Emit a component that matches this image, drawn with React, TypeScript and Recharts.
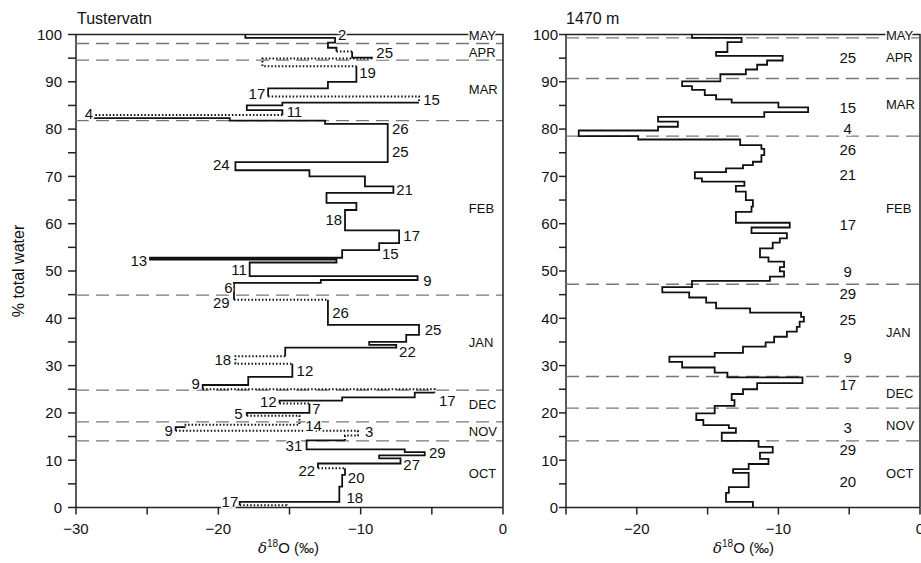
import React from 'react';
import { ScatterChart, Scatter, XAxis, YAxis } from 'recharts';

const FONT = '"Liberation Sans", Arial, Helvetica, sans-serif';

// Tustervatn: δ18O of each layer, bottom of the layer (% total water), line style
// s = solid, h = dotted step into the layer, d = dotted step and layer
const tusVal = [
  -18.1, -11.8, -12.3, -11.7, -10.6, -9.2, -16.9, -10.3, -12.3, -16.5,
  -5.9, -15.5, -18.0, -15.5, -28.9, -19.2, -12.5, -8.1, -18.8, -13.6,
  -9.7, -7.7, -12.4, -10.3, -11.1, -7.3, -8.7, -11.3, -24.8, -11.7,
  -17.8, -6.0, -12.8, -18.9, -12.3, -5.9, -6.8, -9.4, -7.5, -15.3,
  -18.8, -14.8, -17.9, -21.1, -4.8, -6.2, -11.3, -15.7, -13.6, -18.0,
  -14.3, -22.3, -23.0, -10.2, -11.1, -13.8, -6.9, -5.5, -8.7, -7.2,
  -13.0, -11.1, -11.3, -11.5, -18.5, -15.2,
];
const tusBot = [
  99.3, 98.3, 97.2, 96.4, 95.1, 94.9, 93.3, 90.0, 88.6, 86.9,
  85.6, 85.0, 84.0, 83.0, 82.3, 81.8, 81.1, 73.0, 71.3, 70.0,
  67.9, 66.5, 64.4, 62.9, 58.6, 55.9, 54.4, 52.8, 52.4, 51.8,
  48.9, 48.1, 47.5, 43.9, 38.6, 36.5, 35.0, 34.4, 33.8, 32.0,
  30.4, 27.6, 25.9, 25.0, 24.3, 23.3, 22.6, 22.0, 20.0, 19.4,
  17.5, 17.0, 16.2, 15.2, 14.2, 12.3, 11.7, 11.0, 10.4, 9.3,
  8.3, 6.9, 4.4, 1.2, 0.5, 0,
];
const tusStyle = [
  's', 's', 's', 's', 'h', 's', 'd', 'h', 's', 's',
  'd', 's', 's', 's', 'd', 's', 's', 's', 's', 's',
  's', 's', 's', 's', 's', 's', 's', 's', 's', 's',
  's', 's', 's', 's', 'h', 's', 's', 's', 's', 's',
  'd', 'h', 's', 's', 'd', 's', 's', 's', 'h', 's',
  'd', 'd', 's', 'd', 'd', 's', 's', 's', 's', 's',
  's', 'h', 's', 's', 's', 'd',
];

// 1470 m
const hiVal = [
  -16.1, -12.6, -13.6, -14.4, -9.7, -10.8, -11.5, -12.3, -14.1, -16.8,
  -16.1, -15.2, -14.4, -13.3, -10.0, -7.9, -11.0, -18.5, -17.1, -18.5,
  -24.1, -19.9, -12.7, -11.2, -11.0, -11.2, -11.8, -12.5, -13.7, -15.9,
  -15.4, -12.4, -13.0, -12.3, -11.8, -11.9, -13.0, -9.2, -11.9, -9.4,
  -9.9, -10.4, -11.3, -10.7, -9.6, -9.9, -9.6, -10.6, -16.1, -18.2,
  -16.3, -15.1, -14.4, -12.0, -8.4, -8.2, -8.5, -8.7, -9.4, -10.3,
  -10.9, -12.5, -14.5, -17.7, -16.8, -14.5, -13.6, -8.3, -11.5, -12.5,
  -13.3, -13.1, -14.5, -15.8, -15.3, -13.5, -13.0, -14.0, -11.4, -10.4,
  -11.3, -10.7, -12.1, -13.2, -12.1, -13.5, -13.7, -11.8,
];
const hiBot = [
  99.3, 98.4, 96.3, 95.5, 94.5, 93.6, 92.6, 91.6, 90.1, 89.1,
  88.3, 87.2, 86.3, 85.6, 84.6, 83.6, 82.6, 81.6, 80.5, 79.7,
  78.5, 77.8, 76.6, 75.8, 74.5, 73.1, 72.4, 71.7, 70.9, 69.6,
  68.9, 68.0, 66.8, 65.0, 63.6, 62.5, 60.2, 59.2, 58.0, 56.9,
  56.0, 54.8, 52.9, 52.0, 50.8, 49.9, 48.8, 47.9, 46.6, 45.5,
  44.4, 43.3, 42.1, 41.2, 40.3, 39.3, 38.2, 37.2, 36.1, 34.9,
  34.0, 32.7, 31.9, 30.8, 29.6, 28.5, 27.5, 26.3, 25.0, 24.0,
  22.7, 21.5, 19.9, 18.5, 17.4, 16.8, 15.8, 14.1, 12.8, 11.6,
  10.3, 9.2, 8.1, 7.3, 4.3, 3.1, 1.2, 0,
];

// month boundaries (dashed) and month names
const months = ['MAY', 'APR', 'MAR', 'FEB', 'JAN', 'DEC', 'NOV', 'OCT'];
const tusBounds = [98.1, 94.6, 81.8, 44.9, 24.8, 18.1, 14.1];
const tusMonthY = [99.8, 96.1, 88.3, 63.3, 34.8, 21.7, 16.0, 7.1];
const hiBounds = [99.3, 90.7, 78.5, 47.2, 27.7, 21.0, 14.1];
const hiMonthY = [99.7, 95.2, 85.1, 63.3, 36.9, 24.2, 17.4, 7.1];

// sampling-day labels: text, δ18O, % total water, anchor
const tusDays: [string, number, number, string][] = [
  ['2', -11.6, 99.9, 'start'], ['25', -8.9, 96.3, 'start'], ['19', -10.1, 91.9, 'start'],
  ['17', -16.7, 87.6, 'end'], ['15', -5.6, 86.2, 'start'], ['11', -15.2, 83.8, 'start'],
  ['4', -28.8, 83.2, 'end'], ['26', -7.8, 80.2, 'start'], ['25', -7.8, 75.2, 'start'],
  ['24', -19.2, 72.6, 'end'], ['21', -7.5, 67.3, 'start'], ['18', -11.3, 60.8, 'end'],
  ['17', -7.0, 57.6, 'start'], ['15', -8.5, 53.8, 'start'], ['13', -25.0, 52.3, 'end'],
  ['11', -18.0, 50.4, 'end'], ['9', -5.6, 47.9, 'start'], ['6', -19.0, 46.6, 'end'],
  ['29', -19.2, 43.4, 'end'], ['26', -12.0, 41.3, 'start'], ['25', -5.5, 37.7, 'start'],
  ['22', -7.3, 32.9, 'start'], ['18', -19.1, 31.2, 'end'], ['12', -14.5, 28.9, 'start'],
  ['9', -21.3, 26.3, 'end'], ['17', -4.5, 22.7, 'start'], ['12', -15.9, 22.5, 'end'],
  ['7', -13.4, 21.0, 'start'], ['5', -18.3, 19.8, 'end'], ['14', -13.9, 17.4, 'start'],
  ['9', -23.2, 16.2, 'end'], ['3', -9.7, 16.0, 'start'], ['31', -14.1, 13.2, 'end'],
  ['29', -5.2, 11.7, 'start'], ['27', -7.0, 9.0, 'start'], ['22', -13.2, 7.9, 'end'],
  ['20', -10.9, 6.4, 'start'], ['18', -11.0, 2.2, 'start'], ['17', -18.6, 1.2, 'end'],
];
const hiDays = ['25', '15', '4', '26', '21', '17', '9', '29', '25', '9', '17', '3', '29', '20'];
const hiDayY = [95.2, 84.5, 80.2, 75.6, 70.3, 59.9, 50.0, 45.3, 39.8, 31.8, 25.9, 17.0, 12.2, 5.4];

type Pt = { x: number; y: number };
type Run = { dotted: boolean; pts: Pt[] };

function buildRuns(vals: number[], bots: number[], styles?: string[]): Run[] {
  const runs: Run[] = [];
  const push = (a: Pt, b: Pt, dotted: boolean) => {
    const last = runs[runs.length - 1];
    if (last && last.dotted === dotted) last.pts.push(b);
    else runs.push({ dotted, pts: [a, b] });
  };
  let top = 100;
  vals.forEach((v, i) => {
    const st = styles ? styles[i] : 's';
    if (i > 0) push({ x: vals[i - 1], y: top }, { x: v, y: top }, st !== 's');
    push({ x: v, y: top }, { x: v, y: bots[i] }, st === 'd');
    top = bots[i];
  });
  return runs;
}

const TextMark = (p: any) => {
  const d = p.payload;
  return (
    <text
      x={p.cx}
      y={p.cy}
      textAnchor={d.a}
      dominantBaseline="central"
      fontSize={d.f}
      fontFamily={FONT}
      fill="#111"
      stroke="#fff"
      strokeWidth={3}
      paintOrder="stroke"
    >
      {d.t}
    </text>
  );
};

const noDot = () => <g />;

const fmt = (v: number) => (v % 10 === 0 ? (v < 0 ? '\u2212' + Math.abs(v) : String(v)) : '');

const yTicks = Array.from({ length: 21 }, (_, i) => i * 5);

type PanelProps = {
  width: number;
  margin: { top: number; right: number; bottom: number; left: number };
  yWidth: number;
  xMin: number;
  runs: Run[];
  bounds: number[];
  monthY: number[];
  labels: { x: number; y: number; t: string; a: string; f: number }[];
  tickSize: number;
  tickMargin: number;
};

function Panel(p: PanelProps) {
  const xTicks: number[] = [];
  for (let v = p.xMin; v <= 0; v += 5) xTicks.push(v);
  const axisStyle = { stroke: '#222', strokeWidth: 1.5 };
  const monthLabels = months.map((m, i) => ({ x: -2.4, y: p.monthY[i], t: m, a: 'start', f: 13 }));
  // frame: top edge at 100 % and right edge at 0 ‰
  const frame = [
    { x: p.xMin, y: 100 },
    { x: 0, y: 100 },
    { x: 0, y: 0 },
  ];
  return (
    <ScatterChart width={p.width} height={563} margin={p.margin}>
      <XAxis
        type="number"
        dataKey="x"
        domain={[p.xMin, 0]}
        ticks={xTicks}
        tickFormatter={fmt}
        interval={0}
        height={30}
        tickSize={7}
        tickMargin={9}
        axisLine={axisStyle}
        tickLine={axisStyle}
        tick={{ fill: '#111', fontSize: 15, fontFamily: FONT }}
      />
      <YAxis
        type="number"
        dataKey="y"
        domain={[0, 100]}
        ticks={yTicks}
        tickFormatter={fmt}
        interval={0}
        width={p.yWidth}
        tickSize={p.tickSize}
        tickMargin={p.tickMargin}
        axisLine={axisStyle}
        tickLine={axisStyle}
        tick={{ fill: '#111', fontSize: 15, fontFamily: FONT }}
      />
      {p.bounds.map((b, i) => (
        <Scatter
          key={'b' + i}
          data={[
            { x: p.xMin, y: b },
            { x: 0, y: b },
          ]}
          line={{ stroke: '#777', strokeWidth: 1.3, strokeDasharray: '13 7', fill: 'none' }}
          lineType="joint"
          shape={noDot}
          isAnimationActive={false}
        />
      ))}
      <Scatter
        data={frame}
        line={{ stroke: '#222', strokeWidth: 1.5, fill: 'none' }}
        lineType="joint"
        shape={noDot}
        isAnimationActive={false}
      />
      {p.runs.map((r, i) => (
        <Scatter
          key={'r' + i}
          data={r.pts}
          line={{
            stroke: '#111',
            strokeWidth: r.dotted ? 2 : 1.8,
            strokeDasharray: r.dotted ? '1.5 2' : undefined,
            fill: 'none',
          }}
          lineType="joint"
          shape={noDot}
          isAnimationActive={false}
        />
      ))}
      <Scatter data={[...p.labels, ...monthLabels]} shape={TextMark} isAnimationActive={false} />
    </ScatterChart>
  );
}

const DeltaLabel = ({ left }: { left: number }) => (
  <div
    style={{
      position: 'absolute',
      left,
      top: 538,
      fontSize: 15,
      fontFamily: FONT,
      color: '#111',
      whiteSpace: 'nowrap',
    }}
  >
    <span style={{ fontStyle: 'italic', fontFamily: '"DejaVu Serif", serif' }}>δ</span>
    <sup style={{ fontSize: 10 }}>18</sup>O (‰)
  </div>
);

export default function App() {
  const tusRuns = buildRuns(tusVal, tusBot, tusStyle);
  const hiRuns = buildRuns(hiVal, hiBot);
  const tusLabels = tusDays.map(([t, x, y, a]) => ({ t, x, y, a, f: 15 }));
  const hiLabels = hiDays.map((t, i) => ({ t, x: -5.1, y: hiDayY[i], a: 'middle', f: 15 }));
  return (
    <div
      style={{
        position: 'absolute',
        left: 0,
        top: 0,
        width: 921,
        height: 563,
        overflow: 'hidden',
        background: '#fff',
        fontFamily: FONT,
      }}
    >
      <div style={{ position: 'absolute', left: 0, top: 0 }}>
        <Panel
          width={510}
          margin={{ top: 34.5, right: 7, bottom: 25.5, left: 16 }}
          yWidth={60}
          xMin={-30}
          runs={tusRuns}
          bounds={tusBounds}
          monthY={tusMonthY}
          labels={tusLabels}
          tickSize={8}
          tickMargin={6}
        />
      </div>
      <div style={{ position: 'absolute', left: 510, top: 0 }}>
        <Panel
          width={411}
          margin={{ top: 34.5, right: 1, bottom: 25.5, left: 11 }}
          yWidth={45}
          xMin={-25}
          runs={hiRuns}
          bounds={hiBounds}
          monthY={hiMonthY}
          labels={hiLabels}
          tickSize={7}
          tickMargin={1}
        />
      </div>
      <div style={{ position: 'absolute', left: 77, top: 10, fontSize: 16, color: '#111' }}>Tustervatn</div>
      <div style={{ position: 'absolute', left: 566, top: 10, fontSize: 16, color: '#111' }}>1470 m</div>
      <div
        style={{
          position: 'absolute',
          left: 19,
          top: 271,
          fontSize: 16,
          color: '#111',
          whiteSpace: 'nowrap',
          transform: 'translate(-50%, -50%) rotate(-90deg)',
        }}
      >
        % total water
      </div>
      <DeltaLabel left={258} />
      <DeltaLabel left={713} />
    </div>
  );
}
